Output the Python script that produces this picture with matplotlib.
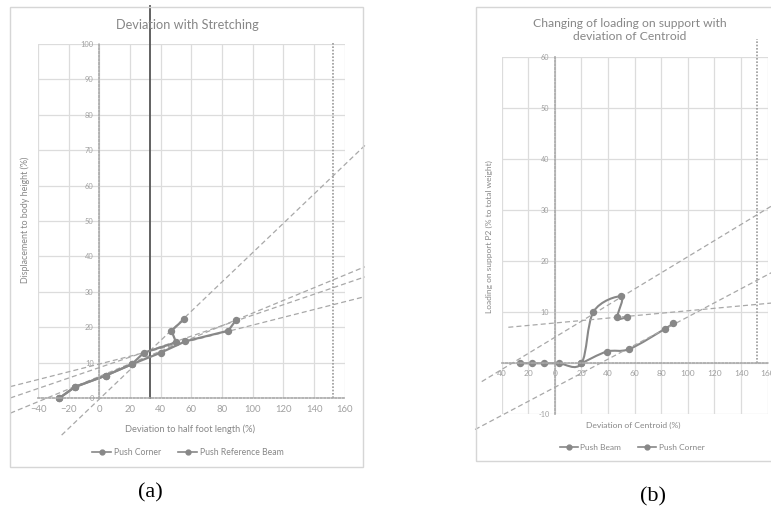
import numpy as np
import matplotlib
matplotlib.use("Agg")
import matplotlib.pyplot as plt
from matplotlib.path import Path
from matplotlib.patches import PathPatch, Rectangle
from matplotlib.lines import Line2D
from matplotlib.ticker import FuncFormatter

plt.rcParams["font.family"] = ["Lato", "DejaVu Sans"]

# ---- (a) Deviation with Stretching ----
a_corner_x = [-26, -16, 4, 21, 40, 56, 84, 89]
a_corner_y = [0, 3.1, 6.3, 9.5, 12.8, 16.0, 19.0, 22.0]
a_beam_x = [-26, -16, 4, 21, 29, 50, 47, 55]
a_beam_y = [0, 3.1, 6.3, 9.5, 12.8, 15.7, 19.0, 22.2]
# trendlines: (slope, intercept, x_from, x_to)
a_trends = [
    (0.414, -0.3, -24.6, 174),
    (0.110, 9.6, -58, 173),
    (0.148, 8.6, -58, 173),
    (0.179, 6.1, -58, 173),
]
a_solid_x, a_solid_top = 33, 110.7
a_dotted_x, a_dotted_top = 152, 100.4

# ---- (b) Changing of loading on support ----
b_beam_x = [-26, -17, -8, 3, 20, 29, 50, 47, 54]
b_beam_y = [0, 0, 0, 0, 0, 10.1, 13.1, 9.0, 9.0]
b_corner_x = [20, 39, 56, 83, 89]
b_corner_y = [0, 2.3, 2.8, 6.8, 7.9]
b_trends = [
    (0.158, 5.1, -55, 166),
    (0.138, -4.7, -60, 166),
    (0.024, 7.9, -35, 166),
]
b_dotted_x, b_dotted_top = 152, 63.6

GRID = "#dcdcdc"
TXT = "#878787"
LINE = "#888888"
TREND = "#a8a8a8"

fig = plt.figure(figsize=(7.71, 5.13), dpi=100)

# chart borders (excel chart area)
for x0, y0, w, h in [(0.013, 0.0897, 0.458, 0.897), (0.617, 0.102, 0.42, 0.884)]:
    fig.add_artist(Rectangle((x0, y0), w, h, transform=fig.transFigure,
                             fill=False, ec="#d6d6d6", lw=1.0))


def smooth_path(xs, ys):
    pts = np.column_stack([xs, ys]).astype(float)
    verts, codes = [pts[0]], [Path.MOVETO]
    n = len(pts)
    for i in range(n - 1):
        p0 = pts[i - 1] if i > 0 else pts[i]
        p1, p2 = pts[i], pts[i + 1]
        p3 = pts[i + 2] if i + 2 < n else pts[i + 1]
        verts += [p1 + (p2 - p0) / 6, p2 - (p3 - p1) / 6, p2]
        codes += [Path.CURVE4] * 3
    return Path(verts, codes)


def style_axes(ax, xlim, ylim, yticks):
    ax.set_xlim(*xlim)
    ax.set_ylim(*ylim)
    ax.set_xticks(np.arange(-40, 161, 20))
    ax.set_yticks(yticks)
    ax.grid(True, color=GRID, lw=0.9)
    ax.set_axisbelow(True)
    for s in ("top", "right"):
        ax.spines[s].set_visible(False)
    for s in ("left", "bottom"):
        ax.spines[s].set_position(("data", 0))
        ax.spines[s].set_linestyle((0, (1, 1.2)))
        ax.spines[s].set_color("#a8a8a8")
        ax.spines[s].set_linewidth(1.2)
    ax.tick_params(length=0, colors="#a0a0a0")
    ax.tick_params(axis="x", labelsize=6.8, pad=5)
    ax.tick_params(axis="y", labelsize=5.4, pad=4)


def draw_trends(ax, trends, color=TREND):
    for k, b, x0, x1 in trends:
        xs = np.array([x0, x1])
        ax.plot(xs, k * xs + b, ls=(0, (4, 2.5)), color=color, lw=0.9, clip_on=False)


# ---------- panel (a) ----------
ax1 = fig.add_axes([0.0493, 0.2242, 0.398, 0.690])
style_axes(ax1, (-40, 160), (0, 100), np.arange(0, 101, 10))
draw_trends(ax1, a_trends)
ax1.plot([a_solid_x, a_solid_x], [0, a_solid_top], color="#555555", lw=1.3, clip_on=False)
ax1.plot([a_dotted_x, a_dotted_x], [0, a_dotted_top], color="#9a9a9a", lw=1.2,
         ls=(0, (1, 1)), clip_on=False)
ax1.plot(a_corner_x, a_corner_y, "-o", color=LINE, ms=4.3, lw=1.6, clip_on=False)
ax1.plot(a_beam_x, a_beam_y, "-o", color=LINE, ms=4.3, lw=1.6, clip_on=False)
ax1.set_xlabel("Deviation to half foot length (%)", fontsize=6.7, color=TXT)
ax1.xaxis.set_label_coords(0.495, -0.076)
ax1.set_ylabel("Displacement to body height (%)", fontsize=6.4, color=TXT)
ax1.yaxis.set_label_coords(-0.026, 0.503)
fig.text(187 / 771, 1 - 25 / 513, "Deviation with Stretching", ha="center", va="center",
         fontsize=9.2, color=TXT)
h = [Line2D([], [], color=LINE, marker="o", ms=3.5, lw=1.2)]
ax1.legend(h * 2, ["Push Corner", "Push Reference Beam"], loc="center",
           bbox_to_anchor=(0.489, -0.153), ncol=2, frameon=False, fontsize=6.2,
           labelcolor=TXT, handlelength=2.2, columnspacing=2.0, handletextpad=0.3)

# ---------- panel (b) ----------
ax2 = fig.add_axes([0.6507, 0.1924, 0.345, 0.696])
style_axes(ax2, (-40, 160), (-10, 60), np.arange(-10, 61, 10))
ax2.xaxis.set_major_formatter(FuncFormatter(lambda v, p: f"{abs(v):.0f}"))
ax2.yaxis.set_major_formatter(FuncFormatter(lambda v, p: "" if v == 0 else f"{v:.0f}"))
ax2.tick_params(axis="x", labelsize=6.0, pad=5)
ax2.tick_params(axis="y", labelsize=5.2, pad=4)
draw_trends(ax2, b_trends)
ax2.plot([b_dotted_x, b_dotted_x], [0, b_dotted_top], color="#9a9a9a", lw=1.2,
         ls=(0, (1, 1)), clip_on=False)
for xs, ys in [(b_beam_x, b_beam_y), (b_corner_x, b_corner_y)]:
    ax2.add_patch(PathPatch(smooth_path(xs, ys), fill=False, ec=LINE, lw=1.5))
    ax2.plot(xs, ys, "o", color=LINE, ms=4.3)
ax2.set_xlabel("Deviation of Centroid (%)", fontsize=6.1, color=TXT)
ax2.xaxis.set_label_coords(0.494, -0.022)
ax2.set_ylabel("Loading on support P2 (% to total weight)", fontsize=6.0, color=TXT)
ax2.yaxis.set_label_coords(-0.033, 0.497)
fig.text(630 / 771, 1 - 30 / 513, "Changing of loading on support with\ndeviation of Centroid",
         ha="center", va="center", fontsize=8.7, color=TXT, linespacing=1.3)
ax2.legend(h * 2, ["Push Beam", "Push Corner"], loc="center",
           bbox_to_anchor=(0.49, -0.092), ncol=2, frameon=False, fontsize=6.0,
           labelcolor=TXT, handlelength=2.2, columnspacing=2.0, handletextpad=0.3)

# captions
fig.text(150 / 771, 1 - 493 / 513, "(a)", ha="center", va="center",
         fontsize=16, family="Liberation Serif")
fig.text(653 / 771, 1 - 497 / 513, "(b)", ha="center", va="center",
         fontsize=16, family="Liberation Serif")

fig.savefig("out.png", dpi=100, facecolor="white")
